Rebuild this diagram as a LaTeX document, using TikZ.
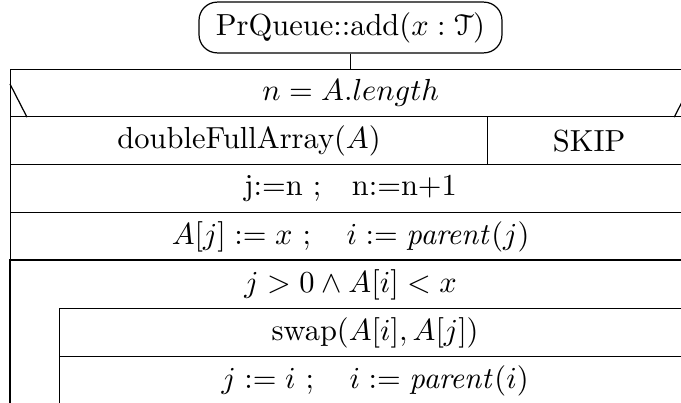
\documentclass[tikz,border=0pt]{standalone}
\usepackage{amsmath,amssymb}
\usepackage[mathcal]{eucal}
\usetikzlibrary{positioning}
\newcommand{\pxl}{0.328pt}
\tikzset{
  kopf/.style={draw,rounded corners=6pt,minimum width=303*\pxl,minimum height=49*\pxl},
  zelle/.style={draw,anchor=north west,inner sep=0pt,minimum height=48*\pxl},
  schraeg/.style={thin}
}

\begin{document}
\begin{tikzpicture}[x=0.328pt,y=-0.328pt]
\useasboundingbox (0,0) rectangle (681,403);
\clip (0,0) rectangle (681,403);

% Kopf der Methode
\node[kopf] (kopf) at (350.5,27.5) {PrQueue::add$(x:\mathcal{T})$};

% Verzweigung
\node[zelle,minimum width=680*\pxl,minimum height=47*\pxl] (bed) at (10,69) {$n = A.length$};
\draw[schraeg] ([yshift=-15*\pxl]bed.north west) -- ([xshift=17*\pxl]bed.south west);
\draw[schraeg] ([yshift=-15*\pxl]bed.north east) -- ([xshift=-17*\pxl]bed.south east);
\node[zelle,minimum width=477*\pxl] (ja) at (10,116) {doubleFullArray$(A)$};
\node[zelle,minimum width=203*\pxl] (nein) at (487,116) {SKIP};

% Zuweisungen
\node[zelle,minimum width=680*\pxl] (zuw1) at (10,164) {j:=n ;\quad n:=n+1};
\node[zelle,minimum width=680*\pxl] (zuw2) at (10,212) {$A[j] := x\ ;\quad i := \mathit{parent}(j)$};

% Schleife
\node[zelle,draw=none,minimum width=680*\pxl] (schleife) at (10,260) {$j > 0 \wedge A[i] < x$};
\coordinate (ende) at (10,404);
\draw (schleife.north east) -- (schleife.north west) -- (ende);
\node[zelle,minimum width=631*\pxl] (tausch) at (59,308) {swap$(A[i],A[j])$};
\node[zelle,minimum width=631*\pxl] (schritt) at (59,356) {$j := i\ ;\quad i := \mathit{parent}(i)$};

% Verbindung
\draw (kopf.south) -- (kopf.south |- bed.north);

\end{tikzpicture}
\end{document}
